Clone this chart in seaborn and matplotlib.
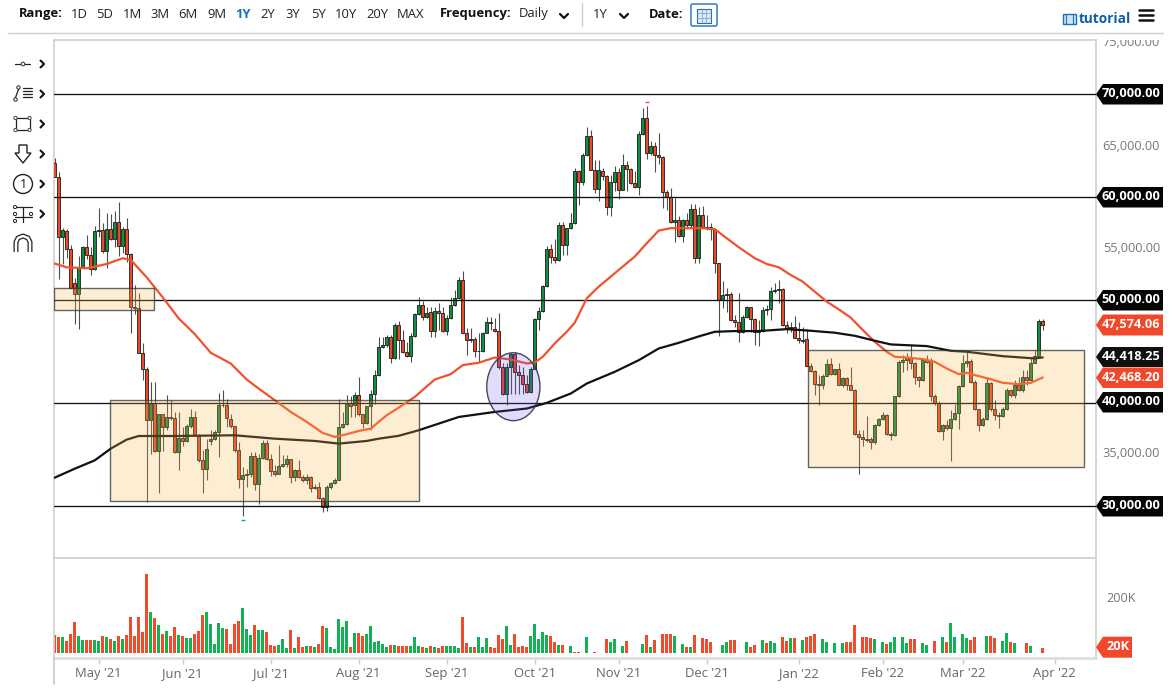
import matplotlib
matplotlib.use("Agg")
import matplotlib.pyplot as plt
from matplotlib.patches import Rectangle, Ellipse, Polygon, Circle, FancyBboxPatch
import numpy as np
import pandas as pd
import seaborn as sns

opens = [
63350,62000,56170,56750,55000,51690,50580,53180,55130,54420,52990,56750,56800,54740,56880,55900,57630,55260,56880,54450,
49280,49200,44800,43340,38380,40000,35320,38960,37660,38630,38500,35220,36600,36300,37730,38630,36850,34400,33600,36310,
36470,37180,39830,39760,38470,37730,35450,32630,32950,33050,34840,32150,34640,36130,34580,33370,33100,33820,34020,34580,
32790,33500,32790,32470,32790,31750,31800,30780,29870,31820,32200,32460,37660,37990,39940,39780,40750,38890,38050,39670,
40900,42690,45450,45600,46360,44410,47560,46100,44970,44540,46520,48640,49510,48310,48860,47010,48950,48700,47010,48210,
49510,50160,51950,46820,46100,46170,45060,45000,46820,47890,47200,47010,43500,40900,43440,44740,43020,42690,41810,41070,
43340,48120,48960,51360,54930,54150,53880,57300,55360,56980,57470,62500,61430,64120,65970,62660,60780,62500,62080,59030,
61430,62400,60710,63080,62760,61360,60970,66170,67700,64290,65000,64120,63900,60490,60060,57630,57800,56230,57730,57300,
58830,54060,58280,57080,57080,56880,53570,50000,50490,50580,48050,47890,46910,48310,49280,48120,46910,46960,49050,49110,
50880,50970,51040,47560,47240,47330,46330,46100,46170,43600,43110,41880,41720,42660,43760,42790,43270,41720,42380,41720,
41300,36940,36680,36400,36500,36200,37850,38400,38810,36940,36830,40650,43990,44150,44480,43830,42530,42200,44150,44150,
40650,39940,37280,37850,37600,38400,38980,41680,43920,44100,42060,39360,37830,38480,41900,39360,38810,38710,39440,41290,
40750,41720,41230,42530,42270,43890,44540,47950]

highs = [
63840,62480,56980,56880,55360,52110,54290,55260,56330,55130,57200,58930,57470,58440,58380,58700,59480,57080,57950,54550,
51460,50650,45780,43500,42040,42040,38960,38960,40750,40260,39120,39120,37660,37980,39450,39220,37010,35380,36530,37340,
37340,40970,41300,40420,38960,37730,36200,33760,33600,35220,35220,35060,36430,36360,35060,33920,35870,34900,34900,34580,
33600,34480,32950,33120,32850,32140,32300,30840,31980,32300,32730,40420,39120,40750,40650,41070,42470,38890,39670,41300,
43180,46430,46430,46590,46590,47730,48000,47080,45940,46750,48700,50320,49900,49290,49350,49350,49670,49350,48540,50260,
50970,52270,52860,47240,47240,46360,46750,46910,48370,48370,48210,48700,43830,43830,44870,44970,43670,43500,42690,43500,
48210,49350,51460,55260,55450,55910,57630,57630,57040,58440,62820,62600,64290,66820,66560,63570,63640,62820,62170,62170,
62990,62820,64220,63470,62820,62500,66400,68670,68900,65420,65330,66230,63960,60710,60880,59900,58120,57860,58440,59350,
59350,59030,59090,58280,57470,56980,53640,51880,51130,50810,48540,50650,48540,49410,49350,48210,48050,49280,49510,51300,
51620,51950,51130,47990,47890,48440,47890,47400,47140,43830,43180,42690,42850,44220,44320,43340,43830,42470,42530,43500,
41390,37400,37400,38700,36690,37900,38570,39120,38900,37170,40710,44150,44640,44800,45610,43990,42600,44320,44640,44320,
40840,40190,37990,38310,39280,39930,41720,44640,45070,44220,42200,39450,38630,42470,42040,40260,39120,39610,41490,41390,
42200,42530,43180,43240,44320,45130,48110,48110]

lows = [
62000,52010,53500,54060,51200,47660,47140,53180,53960,52430,52920,56170,54610,53080,55840,55200,54290,54550,53730,46750,
48640,44800,42270,30350,35060,35220,31230,35320,37400,38310,35130,33500,35780,36200,37600,36750,34250,31200,32470,35870,
36360,34740,39610,37660,37590,35220,31720,28960,31820,32790,31550,30200,34570,34480,32850,32850,33050,33760,33760,32200,
32400,32730,32300,32140,31330,31650,30680,29380,29480,31650,32140,32460,37600,37820,38630,38630,38700,37600,37990,37400,
39930,42590,45290,45450,43900,44310,44220,44800,44480,43990,46430,48540,48050,48210,46430,46430,47080,46910,46590,48120,
49410,50060,46750,44640,45940,44480,43990,44970,46750,47080,46910,43340,40750,39770,40910,40910,40910,40910,40970,40970,
43340,47080,48860,51300,53640,53640,53830,54380,54380,56880,57400,59250,61200,63960,62600,60390,59580,61690,58280,58180,
60550,59810,60650,60550,61300,60880,60220,66070,63700,64120,62400,63250,58930,58760,57530,55680,56100,55680,57140,57140,
53640,53570,56980,56820,55840,52600,46490,49190,48860,47990,47400,45940,46750,48210,46910,45610,45520,46910,48540,48050,
50650,49670,47470,46750,46910,46260,45780,45840,43600,43020,40810,39770,41330,42600,42690,42690,41720,41560,41300,41230,
36850,33115,35780,36200,35550,36040,37720,38310,36850,36360,36800,40580,43020,43180,43340,41880,41560,42140,43830,40190,
39770,37170,36430,37400,34350,38310,37420,41560,43500,41950,39280,37270,37760,38370,39220,38370,37600,38630,39350,40580,
40520,41170,41100,41720,42200,43830,44480,47080]

closes = [
62000,56170,56800,55000,51200,50580,53180,55130,54420,52990,56750,56800,54740,56880,55900,57630,55260,56880,54450,49280,
49200,44800,43340,38380,40000,35320,38960,37660,38630,38500,35220,36600,36300,37730,38630,36850,34400,33600,35550,36470,
37180,39830,39760,38550,37730,35450,32630,32950,33050,34840,32150,34640,36130,34580,33370,33100,33820,34020,34580,32790,
33500,32790,32470,32790,31750,31800,30780,29870,31820,32200,32460,37660,37990,39940,39690,40750,38890,38050,39670,40900,
42690,45450,45600,46360,44410,47560,46100,44970,44540,46520,48640,49510,48310,48700,47010,48950,48700,47010,48210,49510,
50160,51950,46820,46100,46170,45060,45000,46820,47890,47780,47010,43500,40900,43440,44740,43020,42690,41810,41070,43340,
48120,48960,51360,54930,54150,53880,57300,55360,56980,57470,62500,61430,64120,65970,62660,60780,62600,62080,59030,61430,
62400,60710,63080,62760,61360,60970,66170,67700,64290,65000,64120,63900,60490,60060,57630,57800,56230,57730,57300,58830,
54060,58280,57080,56980,56880,53570,50000,50490,50580,48050,47890,46910,48310,49280,48120,46910,46960,49050,49110,50880,
50970,51040,47560,47240,47330,46330,46100,46050,43600,43110,41880,41720,42660,43760,42790,43270,41720,42380,41720,41300,
36940,36680,36520,36500,36200,37850,38400,38810,36940,36830,40650,43990,44150,44480,43830,42530,42200,44150,43990,40650,
39940,37280,37850,37600,38400,38980,41680,43920,44100,42060,39360,37830,38480,41900,39360,38810,38710,39440,41230,40750,
41720,41230,42530,42270,43890,44540,47950,47574]

volume_k = [
69,59,59,46,71,118,64,50,48,49,48,45,64,59,51,45,64,52,66,136,64,136,80,296,152,130,104,71,81,64,
96,68,64,55,56,71,81,142,152,109,32,111,94,89,34,109,119,168,89,68,105,86,86,79,30,26,29,52,19,85,
20,61,21,26,26,22,34,101,92,21,15,126,97,119,24,74,76,64,70,101,40,44,32,24,30,29,26,
27,26,26,60,25,24,20,26,22,19,26,26,26,26,20,136,36,24,24,61,21,56,21,18,68,54,100,29,72,21,25,22,65,109,
51,79,68,62,41,30,31,0,26,2,2,0,61,0,2,0,0,52,40,51,0,26,45,0,0,0,34,66,21,50,0,70,71,71,64,0,34,24,21,69,0,
55,54,42,0,0,29,41,50,49,0,0,40,24,31,0,49,37,45,36,0,59,46,57,55,
0,49,61,62,71,0,51,42,0,36,0,36,42,42,105,0,60,60,55,51,0,41,34,40,59,0,59,39,54,52,0,39,31,0,45,0,61,42,111,59,0,
72,55,47,61,0,0,62,65,56,0,45,74,41,37,0,0,36,26,0,0,20]

volume_side = "".join([
"RRGRRRGGRRGGRGRGRGRR","RRRRGRGRGR","RGRGGRRRGG","GGGRRRRGGG","RGGRRRGGGR","GRRGRGRRGG","GGGGRGRRGG",
"GGGGRGR","RRG","GGRGRGRRGG","GGRRGRGGGR","RRRGGRRRRG","GGGGRRGRGG","RRGGGRGGRG","GGGRGGGGRG","RGRRRGGGRG",
"RGRRRGGGGR","RGGGRRGGRG","GGRRGRGGRR","RGGGGGGGRR","RGRRRGGGRG","GGGGRRGGGG","RGGRGGGGGR","RGGGRRGGGR","GGGRGGGR"])

red_ma_at = [0,3,8,13,17,19,23,27,31,35,39,44,48,51,55,59,63,67,70,73,76,79,83,86,90,95,99,102,106,110,114,118,120,122,125,128,130,
             133,136,139,142,145,148,151,154,158,162,165,168,171,175,178,181,184,187,190,193,196,199,202,205,208,210,213,217,220,223,
             226,228,231,234,237,241,244,247]
red_ma = [53540,53180,53080,53500,54060,53900,52200,50260,48210,46690,44870,43830,42270,41390,40260,39120,38150,37080,36690,36950,37270,37500,
          38800,39540,40580,42270,42790,43670,43900,44410,44220,43830,43930,44480,45780,46910,47790,50160,51300,52270,53250,54220,55520,56750,
          56980,56980,56980,56880,56000,55130,54060,53500,53180,52430,51780,50810,49840,49090,48280,47080,45940,44970,44480,44410,44250,43990,
          43340,42790,42920,42600,42300,41950,41820,41950,42468]

black_ma_at = [0,5,10,14,18,21,30,45,55,65,71,78,81,86,91,101,110,118,123,129,133,140,146,151,156,161,165,170,176,183,189,195,200,205,209,218,
               224,228,237,245,247]
black_ma = [32730,33600,34410,35550,36430,36780,36780,36850,36520,36300,36040,36300,36520,36800,37340,38630,39120,39450,40000,40910,41880,43020,
            44150,45290,45840,46460,46910,46980,46980,47170,47010,46820,46520,46040,45680,45520,45060,44970,44540,44320,44418]

month_at = [11,32,54,76,98,120,141,163,186,207,227,250]
month_labels = ["May '21","Jun '21","Jul '21","Aug '21","Sep '21","Oct '21","Nov '21","Dec '21","Jan '22","Feb '22","Mar '22","Apr '22"]
level_prices = [70000,60000,50000,40000,30000]

C_UP, C_DOWN = "#0f8f3f", "#ea4a25"
V_UP, V_DOWN = "#10b352", "#f5492b"
RED_LINE = "#f2512e"

sns.set_theme(style="white")
plt.rcParams["font.family"] = ["Open Sans", "DejaVu Sans"]

W, H = 1175, 690
fig = plt.figure(figsize=(W/100, H/100), dpi=100)
def axes_px(l, t, r, b):
    return fig.add_axes([l/W, 1-b/H, (r-l)/W, (b-t)/H])

ax = axes_px(53.5, 39.5, 1096, 557.5)
vx = axes_px(53.5, 557.5, 1096, 657.5)
XL = (-0.3, 260.3)
for a in (ax, vx):
    a.set_xlim(*XL)
    a.set_facecolor("white")
    a.grid(False)
    for s in a.spines.values():
        s.set_color("#d0d0d0"); s.set_linewidth(1.2)

idx = np.arange(len(closes))
o, h, l, c = map(np.array, (opens, highs, lows, closes))
up = c >= o

# price pane
ax.set_ylim(24970, 75322)
ax.vlines(idx, l, h, color="#222222", lw=0.8, zorder=2, alpha=.8)
body_h = np.maximum(np.abs(c-o), 60)
ax.bar(idx, body_h, bottom=np.minimum(o, c), width=0.72, color=[C_UP if u else C_DOWN for u in up],
       edgecolor="#1a1a1a", linewidth=0.6, zorder=3)
ax.plot(148, 69270, marker="_", ms=3, color=RED_LINE, zorder=3)
ax.plot(47, 28640, marker="_", ms=3, color=V_UP, zorder=3)

for p in level_prices:
    ax.axhline(p, color="#111111", lw=0.95, zorder=4)

sns.lineplot(x=red_ma_at, y=red_ma, ax=ax, color=RED_LINE, lw=1.6, zorder=5, estimator=None)
sns.lineplot(x=black_ma_at, y=black_ma, ax=ax, color="#111111", lw=1.6, zorder=5, estimator=None)

box_face = (0.98, 0.72, 0.30, 0.25)
box_edge = (0.2, 0.2, 0.2, 0.75)
for (x0, x1, y0, y1) in [(13.8, 91.0, 30500, 40260), (-0.3, 24.9, 48980, 51210), (188.2, 257.3, 33740, 45100)]:
    ax.add_patch(Rectangle((x0, y0), x1-x0, y1-y0, facecolor=box_face, edgecolor=box_edge, lw=1.0, zorder=6))
ax.add_patch(Ellipse((114.65, 41570), 13.3, 6600, facecolor=(0.45, 0.3, 0.9, 0.2), edgecolor=(0.2, 0.2, 0.3, 0.9), lw=1.0, zorder=6))
ax.set_xticks([]); ax.set_yticks([]); ax.set_xlabel(""); ax.set_ylabel("")

# volume pane
vol = pd.DataFrame({"i": idx, "v": volume_k, "side": list(volume_side)})
sns.barplot(data=vol, x="i", y="v", hue="side", palette={"G": V_UP, "R": V_DOWN}, native_scale=True,
            dodge=False, width=0.72, legend=False, ax=vx, saturation=1)
for bar in vx.patches:
    mid = bar.get_x() + bar.get_width()/2
    bar.set_width(0.72); bar.set_x(mid - 0.36)
    bar.set_edgecolor("none"); bar.set_linewidth(0)
vx.set_xlim(*XL)
vx.set_ylim(-17, 358)
vx.set_xlabel(""); vx.set_ylabel("")
vx.set_yticks([])
vx.set_xticks(month_at)
vx.set_xticklabels(month_labels, fontsize=9.4, color="#666666", family="Open Sans")
vx.tick_params(axis="x", length=4, width=1, color="#cccccc", pad=3, bottom=True)
vx.spines["bottom"].set_linewidth(2.2)
vx.spines["bottom"].set_color("#e0e0e0")

# page chrome in pixel coordinates
ov = fig.add_axes([0, 0, 1, 1], zorder=10)
ov.set_xlim(0, W); ov.set_ylim(H, 0); ov.axis("off"); ov.patch.set_alpha(0)

def txt(x, y, s, **kw):
    kw.setdefault("va", "center"); kw.setdefault("ha", "center"); kw.setdefault("fontsize", 9.4); kw.setdefault("color", "#222222")
    return ov.text(x, y, s, **kw)

ov.plot([8, 1163], [33, 33], color="#cfcfcf", lw=1)
ov.plot([53.5, 53.5], [657, 684], color="#c8c8c8", lw=1.2)
txt(41, 14, "Range:", fontweight="bold", color="#111111")
for x, s in [(79,"1D"),(105,"5D"),(132,"1M"),(160,"3M"),(188,"6M"),(217,"9M"),(268,"2Y"),(293,"3Y"),(318,"5Y"),(346,"10Y"),(377,"20Y"),(411,"MAX")]:
    txt(x, 14.5, s)
txt(243, 14.5, "1Y", color="#1c6fc4", fontweight="bold")
txt(475.5, 14, "Frequency:", fontweight="bold", color="#111111")
txt(533.5, 14, "Daily")
txt(600, 14, "1Y")
txt(666.5, 14, "Date:", fontweight="bold", color="#111111")
for cx in (564, 624):
    ov.plot([cx-4, cx, cx+4], [14, 18, 14], color="#111111", lw=1.6)
ov.plot([582, 582], [3, 26], color="#cccccc", lw=1)
ov.add_patch(FancyBboxPatch((691, 4), 26, 22, boxstyle="round,pad=0,rounding_size=1.5", fc="white", ec="#1c6fc4", lw=1))
ov.add_patch(Rectangle((697, 9), 14, 14, fc="#dbe8f6", ec="#2b6aa8", lw=0.8))
for gx in (701.5, 706):
    ov.plot([gx, gx], [9, 23], color="#6f9fd0", lw=0.5)
for gy in (13, 17.5):
    ov.plot([697, 711], [gy, gy], color="#6f9fd0", lw=0.5)
ov.add_patch(Rectangle((1063, 14), 13, 10, fc="#cfe3f5", ec="#1d6fb8", lw=1))
for gx in (1066, 1073):
    ov.plot([gx, gx], [14, 24], color="#1d6fb8", lw=0.8)
txt(1104.5, 19, "tutorial", color="#0b5fa5", fontweight="bold", fontsize=9.8)
for gy in (9.5, 14.5, 19.5):
    ov.plot([1138.5, 1153], [gy, gy], color="#111111", lw=1.8)

# left tool icons
ik = dict(color="#222222", lw=0.9)
ov.plot([15, 30], [64, 64], **ik); ov.add_patch(Circle((23, 64), 1.8, fc="white", ec="#444444", lw=0.8, zorder=5))
ov.plot([15, 19], [99, 88], **ik)
for yy in (88, 91, 94, 97):
    ov.plot([23, 32], [yy, yy], **ik)
for p in ((15.5, 99.5), (18.5, 87.5)):
    ov.add_patch(Circle(p, 1.7, fc="white", ec="#222222", lw=0.7, zorder=5))
ov.add_patch(Rectangle((15.5, 118), 14, 12, fc="none", ec="#222222", lw=0.9))
for p in ((15.5,118),(29.5,118),(15.5,130),(29.5,130)):
    ov.add_patch(Circle(p, 1.6, fc="white", ec="#444444", lw=0.7, zorder=5))
ov.add_patch(Polygon([(19,145),(27,145),(27,153),(31,153),(23,163),(15,153),(19,153)], closed=True, fc="white", ec="#222222", lw=1))
ov.add_patch(Circle((23, 184), 9.5, fc="white", ec="#222222", lw=1))
txt(23, 184, "1", fontsize=9)
ov.plot([15, 32], [207, 207], **ik); ov.plot([15, 32], [217, 217], **ik); ov.plot([23, 23], [207, 222], **ik)
for p in ((15,207),(15,214),(15,221),(31,214)):
    ov.add_patch(Circle(p, 1.6, fc="white", ec="#222222", lw=0.7, zorder=5))
ov.plot([16,16,18,23,28,30,30],[252,242,238,236,238,242,252], color="#222222", lw=3.6, solid_capstyle="butt")
ov.plot([16,16,18,23,28,30,30],[252,242,238,236,238,242,252], color="white", lw=1.8, solid_capstyle="butt")
for y in (64, 94, 124, 154, 184, 214):
    ov.plot([40.5, 44, 40.5], [y-3.5, y, y+3.5], color="#111111", lw=1.5)

# value tags
def tag(y0, y1, s, col, x1=1163, fs=9.2):
    ov.add_patch(Polygon([(1096, (y0+y1)/2), (1103, y0), (x1, y0), (x1, y1), (1103, y1)], closed=True, fc=col, ec="none", zorder=7))
    txt(x1-2.5, (y0+y1)/2-0.3, s, ha="right", color="white", fontweight="bold", fontsize=fs, zorder=8)

for s, y0 in [("70,000.00",84),("60,000.00",187),("50,000.00",290),("40,000.00",392),("30,000.00",496)]:
    tag(y0, y0+20.5, s, "#050505")
tag(347, 367, "44,418.25", "#111111")
tag(314.5, 335.5, "47,574.06", "#f1472a")
tag(367.5, 388, "42,468.20", "#f1472a")
tag(636.7, 657.7, "20K", "#f1472a", x1=1132)

for s, y in [("65,000.00",146),("55,000.00",248.5),("35,000.00",453.5)]:
    txt(1160, y, s, ha="right", color="#777777", fontsize=9.2)
t75 = txt(1160, 43, "75,000.00", ha="right", color="#777777", fontsize=9.2)
t75.set_clip_on(True)
t75.set_clip_path(Rectangle((1096, 39.5), 79, 20, transform=ov.transData))
txt(1136, 599, "200K", ha="right", color="#777777", fontsize=9.2)

fig.savefig("out.png", dpi=100, facecolor="white")
